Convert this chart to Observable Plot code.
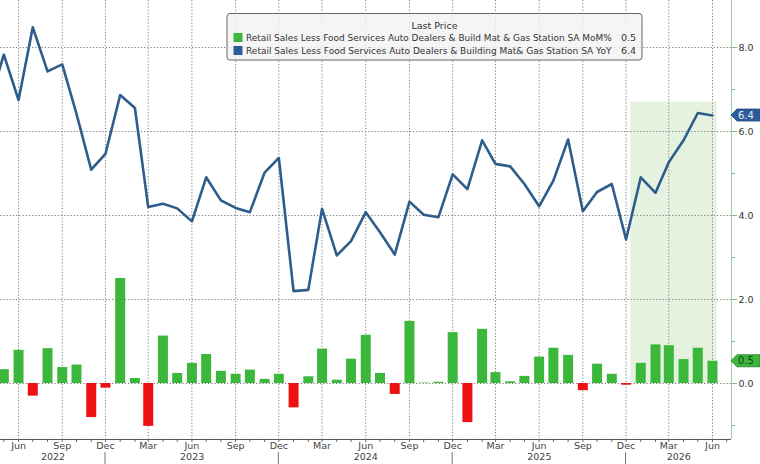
<!DOCTYPE html>
<html>
<head>
<meta charset="utf-8">
<script src="https://cdn.jsdelivr.net/npm/d3@7"></script>
<script src="https://cdn.jsdelivr.net/npm/@observablehq/plot@0.6"></script>
<style>
  html, body { margin: 0; padding: 0; background: #fff; }
  #chart { width: 760px; height: 464px; overflow: hidden; }
</style>
</head>
<body>
<div id="chart"></div>
<script>
// ---- data ----
const months = [
  "2022-04","2022-05","2022-06","2022-07","2022-08","2022-09","2022-10","2022-11","2022-12",
  "2023-01","2023-02","2023-03","2023-04","2023-05","2023-06","2023-07","2023-08","2023-09","2023-10","2023-11","2023-12",
  "2024-01","2024-02","2024-03","2024-04","2024-05","2024-06","2024-07","2024-08","2024-09","2024-10","2024-11","2024-12",
  "2025-01","2025-02","2025-03","2025-04","2025-05","2025-06","2025-07","2025-08","2025-09","2025-10","2025-11","2025-12",
  "2026-01","2026-02","2026-03","2026-04","2026-05","2026-06"
];
// MoM % (bars)
const momValues = [
  null, 0.33, 0.79, -0.30, 0.83, 0.38, 0.44, -0.81, -0.11,
  2.50, 0.12, -1.02, 1.13, 0.24, 0.48, 0.69, 0.29, 0.22, 0.32, 0.10, 0.22,
  -0.58, 0.16, 0.82, 0.08, 0.58, 1.15, 0.24, -0.26, 1.48, 0.01, 0.03, 1.21,
  -0.93, 1.29, 0.26, 0.04, 0.17, 0.63, 0.84, 0.67, -0.17, 0.46, 0.22, -0.04,
  0.48, 0.92, 0.90, 0.57, 0.84, 0.53
];
// YoY % (line)
const yoyValues = [
  6.70, 7.83, 6.75, 8.48, 7.43, 7.60, 6.42, 5.09, 5.47,
  6.87, 6.56, 4.20, 4.28, 4.17, 3.86, 4.91, 4.36, 4.18, 4.08, 5.02, 5.37,
  2.20, 2.23, 4.16, 3.05, 3.39, 4.08, 3.60, 3.07, 4.33, 4.02, 3.96, 4.98,
  4.63, 5.79, 5.23, 5.17, 4.75, 4.22, 4.83, 5.81, 4.10, 4.56, 4.75, 3.43,
  4.91, 4.54, 5.27, 5.79, 6.44, 6.38
];
const seriesNames = [
  "Retail Sales Less Food Services Auto Dealers & Build Mat & Gas Station SA MoM%",
  "Retail Sales Less Food Services Auto Dealers & Building Mat& Gas Station SA YoY"
];
const legendTitle = "Last Price";
const yTicks = [0, 2, 4, 6, 8];
const yMinorTicks = [-1, 1, 3, 5, 7];
const xDomain = ["2022-04-24", "2026-07-11"];
const yDomain = [-1.333, 9.119];
const highlight = {start: "2025-12-11", end: "2026-06-11", top: 6.7};

// ---- colours ----
const GREEN = "#3bb83b", RED = "#ee1111", BLUE = "#2e5d8b", FLAGBLUE = "#2c5c98";

// ---- derived ----
const parse = d3.utcParse("%Y-%m");
const parseDay = d3.utcParse("%Y-%m-%d");
const data = months.map((m, i) => ({date: parse(m), mom: momValues[i], yoy: yoyValues[i]}));
const bars = data.filter(d => d.mom != null);
const xDom = xDomain.map(parseDay);
const quarterTicks = data.map(d => d.date).filter(d => d.getUTCMonth() % 3 === 2);
const monthTicks = d3.utcMonths(xDom[0], xDom[1]);
const decTicks = quarterTicks.filter(d => d.getUTCMonth() === 11);
// year labels centred on the visible span of each (Dec-to-Dec) year block
const years = d3.range(2022, 2027).map(y => {
  const a = d3.max([xDom[0], new Date(Date.UTC(y - 1, 11, 1))]);
  const b = d3.min([xDom[1], new Date(Date.UTC(y, 11, 1))]);
  return {year: String(y), center: new Date((+a + +b) / 2)};
});
const hl = [{x1: parseDay(highlight.start), x2: parseDay(highlight.end), y1: 0, y2: highlight.top}];

const FONT = "'DejaVu Sans', sans-serif";

const plot = Plot.plot({
  width: 760,
  height: 464,
  marginLeft: 0,
  marginRight: 29,
  marginTop: 0,
  marginBottom: 25,
  style: {fontFamily: FONT, fontSize: "9.5px", background: "#fff", color: "#333", overflow: "visible"},
  x: {type: "utc", domain: xDom},
  y: {domain: yDomain},
  marks: [
    Plot.rect(hl, {x1: "x1", x2: "x2", y1: "y1", y2: "y2", fill: "#e5f2e0"}),
    Plot.gridY(yTicks, {stroke: "#7a7a7a", strokeOpacity: 1, strokeDasharray: "1.2,2"}),
    Plot.gridX(quarterTicks, {stroke: "#7a7a7a", strokeOpacity: 1, strokeDasharray: "1.2,2"}),
    Plot.ruleX(bars, {x: "date", y1: 0, y2: "mom", stroke: d => d.mom >= 0 ? GREEN : RED, strokeWidth: 10}),
    Plot.line(data, {x: "date", y: "yoy", stroke: BLUE, strokeWidth: 2.6, clip: true}),
    Plot.ruleY([yDomain[0]], {stroke: "#555"}),
    Plot.ruleX([xDom[1]], {stroke: "#a5cca5"}),
    Plot.axisX(monthTicks, {tickSize: 3, tickFormat: () => "", stroke: "#666"}),
    Plot.axisX(quarterTicks, {tickSize: 0, tickPadding: 3, tickFormat: d3.utcFormat("%b"), fill: "#444"}),
    Plot.text(years, {x: "center", text: "year", frameAnchor: "bottom", dy: 20, fill: "#444"}),
    Plot.axisY(yTicks, {anchor: "right", tickSize: 5, tickPadding: 2, tickFormat: d3.format(".1f"), stroke: "#7fb87f", fill: "#333"}),
    Plot.axisY(yMinorTicks, {anchor: "right", tickSize: 3, tickFormat: () => "", stroke: "#7fb87f"})
  ]
});

document.getElementById("chart").appendChild(plot);

// ---- overlays using the plot's own scales ----
const sx = plot.scale("x"), sy = plot.scale("y");
const svg = d3.select(plot);
const xRight = sx.apply(xDom[1]);
const H = 464, W = 760;

// year dividers
svg.append("g").selectAll("line").data(decTicks).join("line")
  .attr("x1", d => sx.apply(d)).attr("x2", d => sx.apply(d))
  .attr("y1", H - 12).attr("y2", H).attr("stroke", "#777");

// value flags on right axis
const fmt = d3.format(".1f");
const last = data[data.length - 1];
const flags = [
  {v: last.yoy, fill: FLAGBLUE, stroke: "#1f4a80", text: "#e4ecf7"},
  {v: last.mom, fill: GREEN, stroke: "#237a23", text: "#154015"}
];
const fg = svg.append("g").attr("text-anchor", "start");
flags.forEach(f => {
  const cy = sy.apply(f.v);
  const x0 = xRight;
  fg.append("path")
    .attr("d", `M${x0},${cy}L${x0 + 6},${cy - 6}L${W},${cy - 6}L${W},${cy + 6}L${x0 + 6},${cy + 6}Z`)
    .attr("fill", f.fill).attr("stroke", f.stroke).attr("stroke-width", 0.8);
  fg.append("text").attr("x", x0 + 7).attr("y", cy).attr("dy", "0.35em")
    .attr("font-family", FONT).attr("font-size", 10).attr("fill", f.text).text(fmt(f.v));
});

// legend
const lg = svg.append("g").attr("font-family", FONT).attr("font-size", 9.5).attr("fill", "#333").attr("text-anchor", "start");
lg.append("rect").attr("x", 227).attr("y", 13.5).attr("width", 415).attr("height", 46.5).attr("rx", 3)
  .attr("fill", "#f3f3f3").attr("fill-opacity", 0.82).attr("stroke", "#666").attr("stroke-width", 1);
lg.append("text").attr("x", 434.5).attr("y", 29).attr("text-anchor", "middle").text(legendTitle);
const rows = [
  {name: seriesNames[0], color: GREEN, value: fmt(last.mom), y: 37.5},
  {name: seriesNames[1], color: FLAGBLUE, value: fmt(last.yoy), y: 50.5}
];
const nameWidth = 366;
rows.forEach(r => {
  lg.append("rect").attr("x", 233.5).attr("y", r.y - 4.5).attr("width", 9).attr("height", 9).attr("fill", r.color);
  const t = lg.append("text").attr("dy", "0.35em").text(r.name);
  const natural = t.node().getComputedTextLength();
  const k = Math.min(1, nameWidth / natural);
  t.attr("transform", `translate(246,${r.y}) scale(${k},1)`);
  lg.append("text").attr("x", 621).attr("y", r.y).attr("dy", "0.35em").text(r.value);
});
</script>
</body>
</html>
